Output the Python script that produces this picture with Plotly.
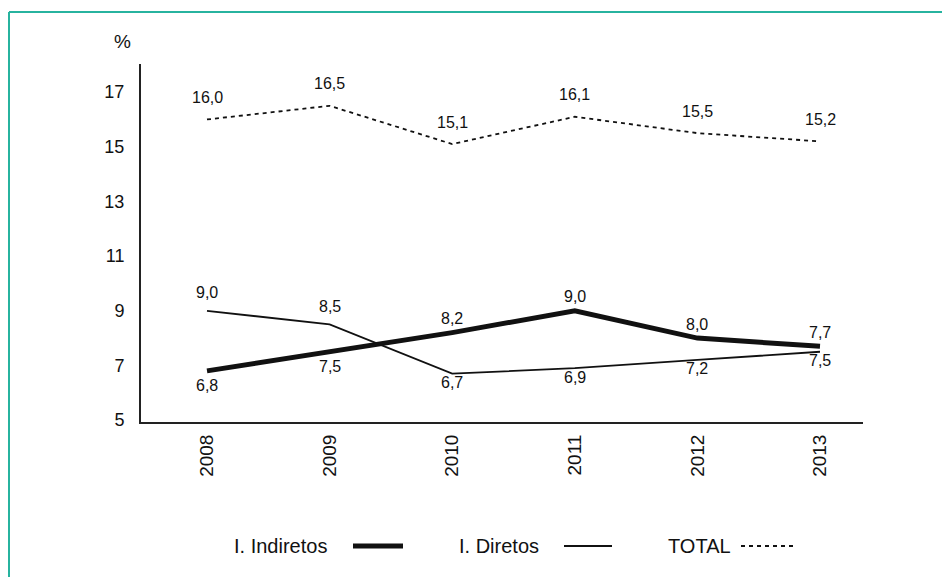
import plotly.graph_objects as go

years = ["2008", "2009", "2010", "2011", "2012", "2013"]
indiretos = [6.8, 7.5, 8.2, 9.0, 8.0, 7.7]
diretos = [9.0, 8.5, 6.7, 6.9, 7.2, 7.5]
total = [16.0, 16.5, 15.1, 16.1, 15.5, 15.2]
yticks = [5, 7, 9, 11, 13, 15, 17]

# label side for each point: +1 above, -1 below
ind_side = [-1, -1, 1, 1, 1, 1]
dir_side = [1, 1, -1, -1, -1, -1]
tot_side = [1, 1, 1, 1, 1, 1]

def fmt(v):
    return f"{v:.1f}".replace(".", ",")

FONT = "Liberation Sans, Arial, sans-serif"
INK = "#111111"

W, H = 942, 577
L, R, T, B = 141, 863, 64, 422

def px(x):
    return (x - L) / (R - L)

def py(y):
    return (B - y) / (B - T)

xs = list(range(len(years)))

fig = go.Figure()
fig.add_trace(go.Scatter(x=xs, y=indiretos, mode="lines", name="I. Indiretos",
                         line=dict(color=INK, width=5)))
fig.add_trace(go.Scatter(x=xs, y=diretos, mode="lines", name="I. Diretos",
                         line=dict(color=INK, width=1.8)))
fig.add_trace(go.Scatter(x=xs, y=total, mode="lines", name="TOTAL",
                         line=dict(color=INK, width=1.8, dash="4px,4px")))

# value labels
label_specs = [
    (indiretos, ind_side, 14, 15),
    (diretos, dir_side, 18, 9),
    (total, tot_side, 22, 22),
]
for vals, sides, up, down in label_specs:
    for xi, v, s in zip(xs, vals, sides):
        fig.add_annotation(x=xi, y=v, xref="x", yref="y", text=fmt(v), showarrow=False,
                           xanchor="center", yanchor="middle",
                           yshift=up if s > 0 else -down,
                           font=dict(family=FONT, size=16, color=INK))

step = 122.6
x0 = -(207 - L) / step
x1 = 5 + (R - 820) / step

fig.update_layout(
    width=W, height=H,
    margin=dict(l=L, r=W - R, t=T, b=H - B, pad=0),
    paper_bgcolor="white", plot_bgcolor="white",
    showlegend=False,
    font=dict(family=FONT, color=INK),
    xaxis=dict(range=[x0, x1], tickvals=xs, ticktext=years, tickangle=-90,
               showgrid=False, zeroline=False, showline=True, linecolor="#222222", linewidth=2,
               ticks="outside", ticklen=3, tickcolor="white",
               tickfont=dict(family=FONT, size=19, color=INK)),
    yaxis=dict(range=[4.93, 18.03], tickvals=yticks, ticktext=[str(v) for v in yticks],
               showgrid=False, zeroline=False, showline=True, linecolor="#222222", linewidth=2,
               ticks="outside", ticklen=11, tickcolor="white",
               tickfont=dict(family=FONT, size=18, color=INK)),
)

shapes = []
teal = "#27b39f"
shapes.append(dict(type="line", xref="paper", yref="paper", x0=px(9), x1=px(9), y0=py(12), y1=py(H + 5),
                   line=dict(color=teal, width=2)))
shapes.append(dict(type="line", xref="paper", yref="paper", x0=px(9), x1=px(W + 5), y0=py(12), y1=py(12),
                   line=dict(color=teal, width=2)))
leg_y = 546
shapes.append(dict(type="line", xref="paper", yref="paper", x0=px(353), x1=px(403), y0=py(leg_y), y1=py(leg_y),
                   line=dict(color=INK, width=5)))
shapes.append(dict(type="line", xref="paper", yref="paper", x0=px(564), x1=px(612), y0=py(leg_y), y1=py(leg_y),
                   line=dict(color=INK, width=1.8)))
shapes.append(dict(type="line", xref="paper", yref="paper", x0=px(741), x1=px(793), y0=py(leg_y), y1=py(leg_y),
                   line=dict(color=INK, width=1.8, dash="4px,4px")))
fig.update_layout(shapes=shapes)

anns = [
    dict(text="%", x=px(122), y=py(41), size=19),
    dict(text="I. Indiretos", x=px(232), y=py(leg_y), xanchor="left", size=20),
    dict(text="I. Diretos", x=px(457), y=py(leg_y), xanchor="left", size=20),
    dict(text="TOTAL", x=px(666), y=py(leg_y), xanchor="left", size=20),
]
for a in anns:
    a.setdefault("xanchor", "center")
    size = a.pop("size")
    fig.add_annotation(xref="paper", yref="paper", showarrow=False, yanchor="middle",
                       font=dict(family=FONT, size=size, color=INK), **a)

fig.write_html("out.html")
